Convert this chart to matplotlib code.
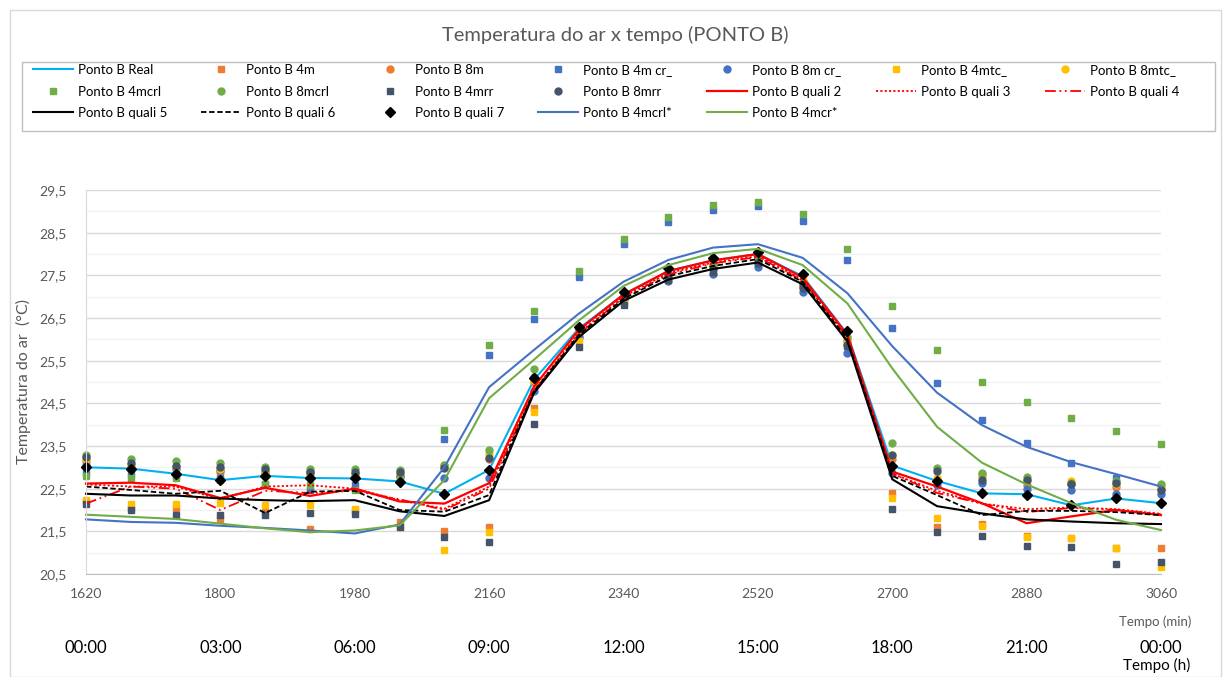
import matplotlib
matplotlib.use("Agg")
import matplotlib.pyplot as plt
from matplotlib.patches import Rectangle
from matplotlib.transforms import blended_transform_factory

plt.rcParams['font.family'] = ['Lato', 'DejaVu Sans']

# ---------------------------------------------------------------- data
tempo_min = [1620, 1680, 1740, 1800, 1860, 1920, 1980, 2040, 2100, 2160, 2220, 2280,
             2340, 2400, 2460, 2520, 2580, 2640, 2700, 2760, 2820, 2880, 2940, 3000, 3060]

tick_min = [1620, 1800, 1980, 2160, 2340, 2520, 2700, 2880, 3060]
tick_hora = ["00:00", "03:00", "06:00", "09:00", "12:00", "15:00", "18:00", "21:00", "00:00"]
tick_temp = [20.5, 21.5, 22.5, 23.5, 24.5, 25.5, 26.5, 27.5, 28.5, 29.5]
tick_temp_labels = ["20,5", "21,5", "22,5", "23,5", "24,5", "25,5", "26,5", "27,5", "28,5", "29,5"]
grid_temp_minor = [21.0, 22.0, 23.0, 24.0, 25.0, 26.0, 27.0, 28.0, 29.0]

real = [23.00, 22.97, 22.85, 22.70, 22.80, 22.75, 22.74, 22.67, 22.38, 22.94, 25.05, 26.25,
        27.05, 27.60, 27.85, 28.00, 27.48, 26.12, 23.04, 22.68, 22.39, 22.37, 22.11, 22.27, 22.16]
p4m = [22.20, 22.05, 22.05, 21.80, 21.95, 21.56, 22.00, 21.72, 21.51, 21.59, 24.40, 26.05,
       26.90, 27.45, 27.80, 27.95, 27.35, 26.00, 22.41, 21.61, 21.67, 21.38, 21.35, 21.10, 21.12]
p8m = [23.15, 23.00, 23.00, 22.90, 22.85, 22.85, 22.80, 22.81, 23.00, 23.20, 25.00, 26.15,
       27.00, 27.45, 27.70, 27.85, 27.25, 25.95, 23.20, 22.70, 22.80, 22.59, 22.60, 22.55, 22.50]
p4m_cr = [22.90, 22.85, 22.80, 22.75, 22.60, 22.48, 22.58, 22.75, 23.66, 25.63, 26.47, 27.45,
          28.23, 28.76, 29.03, 29.12, 28.77, 27.85, 26.27, 24.97, 24.11, 23.58, 23.09, 22.76, 22.55]
p8m_cr = [23.05, 22.95, 22.95, 22.93, 22.89, 22.90, 22.85, 22.80, 22.76, 22.74, 24.80, 26.05,
          26.95, 27.37, 27.52, 27.69, 27.12, 25.69, 22.87, 22.59, 22.63, 22.49, 22.48, 22.38, 22.37]
p4mtc = [22.23, 22.13, 22.13, 22.16, 22.11, 22.11, 22.03, 21.60, 21.06, 21.49, 24.30, 25.95,
         26.84, 27.45, 27.82, 27.97, 27.40, 26.02, 22.27, 21.82, 21.63, 21.36, 21.34, 21.10, 20.67]
p8mtc = [23.20, 23.05, 23.00, 22.95, 22.90, 22.85, 22.85, 22.85, 23.05, 23.31, 25.05, 26.20,
         26.98, 27.45, 27.70, 27.85, 27.30, 26.00, 23.30, 22.75, 22.84, 22.70, 22.68, 22.60, 22.55]
p4mcrl = [22.80, 22.75, 22.75, 22.70, 22.60, 22.58, 22.48, 22.75, 23.87, 25.87, 26.66, 27.60,
          28.34, 28.86, 29.15, 29.23, 28.93, 28.11, 26.78, 25.75, 25.00, 24.52, 24.15, 23.86, 23.54]
p8mcrl = [23.30, 23.20, 23.16, 23.10, 23.00, 22.97, 22.95, 22.94, 23.05, 23.41, 25.30, 26.30,
          27.05, 27.55, 27.75, 27.90, 27.30, 26.06, 23.56, 22.98, 22.87, 22.77, 22.63, 22.68, 22.60]
p4mrr = [22.13, 22.01, 21.88, 21.88, 21.88, 21.93, 21.90, 21.60, 21.36, 21.26, 24.01, 25.83,
         26.80, 27.40, 27.57, 27.80, 27.30, 25.85, 22.02, 21.48, 21.40, 21.16, 21.13, 20.73, 20.78]
p8mrr = [23.25, 23.10, 23.03, 23.00, 22.95, 22.90, 22.88, 22.90, 22.98, 23.23, 25.12, 26.25,
         27.00, 27.50, 27.65, 27.80, 27.20, 25.87, 23.28, 22.91, 22.70, 22.70, 22.60, 22.64, 22.48]
quali2 = [22.62, 22.64, 22.58, 22.28, 22.52, 22.33, 22.50, 22.20, 22.15, 22.63, 24.89, 26.22,
          27.05, 27.60, 27.85, 28.00, 27.45, 26.10, 22.90, 22.55, 22.16, 21.69, 21.85, 22.00, 21.88]
quali3 = [22.60, 22.55, 22.55, 22.25, 22.55, 22.58, 22.50, 22.23, 22.03, 22.55, 24.80, 26.15,
          27.00, 27.55, 27.80, 27.95, 27.40, 26.05, 22.85, 22.45, 22.15, 22.02, 22.06, 22.02, 21.91]
quali4 = [22.15, 22.55, 22.50, 22.00, 22.45, 22.40, 22.45, 22.25, 22.00, 22.50, 24.78, 26.12,
          26.98, 27.52, 27.78, 27.93, 27.38, 26.03, 22.85, 22.40, 22.15, 21.95, 22.05, 22.00, 21.90]
quali5 = [22.38, 22.34, 22.34, 22.27, 22.23, 22.21, 22.23, 21.97, 21.86, 22.23, 24.74, 26.05,
          26.90, 27.40, 27.65, 27.80, 27.29, 25.95, 22.72, 22.09, 21.92, 21.78, 21.73, 21.69, 21.67]
quali6 = [22.55, 22.47, 22.38, 22.45, 21.93, 22.43, 22.45, 22.00, 21.96, 22.35, 24.78, 26.10,
          26.95, 27.48, 27.72, 27.88, 27.35, 26.00, 22.80, 22.35, 21.88, 21.98, 21.98, 21.95, 21.88]
quali7 = [23.00, 22.97, 22.85, 22.70, 22.80, 22.75, 22.75, 22.65, 22.38, 22.94, 25.09, 26.30,
          27.12, 27.68, 27.91, 28.05, 27.52, 26.20, 23.03, 22.68, 22.40, 22.36, 22.11, 22.27, 22.16]
p4mcrl_ast = [21.78, 21.72, 21.70, 21.63, 21.58, 21.52, 21.45, 21.66, 23.00, 24.88, 25.75, 26.60,
              27.35, 27.86, 28.15, 28.23, 27.91, 27.08, 25.84, 24.75, 23.99, 23.48, 23.12, 22.84, 22.55]
p4mcr_ast = [21.89, 21.84, 21.79, 21.68, 21.57, 21.48, 21.52, 21.64, 22.70, 24.62, 25.52, 26.44,
             27.25, 27.74, 28.02, 28.12, 27.74, 26.84, 25.32, 23.95, 23.11, 22.60, 22.16, 21.77, 21.53]

# ---------------------------------------------------------------- styles
BLUE, ORANGE, GOLD, GREEN, SLATE = "#4472C4", "#ED7D31", "#FFC000", "#70AD47", "#44546A"
CYAN, RED = "#00B0F0", "#FF0000"

series = [
    ("Ponto B Real",     real,       dict(color=CYAN, lw=1.5)),
    ("Ponto B 4m",       p4m,        dict(color=ORANGE, ls="none", marker="s", ms=5)),
    ("Ponto B 8m",       p8m,        dict(color=ORANGE, ls="none", marker="o", ms=5)),
    ("Ponto B 4m cr_",   p4m_cr,     dict(color=BLUE, ls="none", marker="s", ms=5)),
    ("Ponto B 8m cr_",   p8m_cr,     dict(color=BLUE, ls="none", marker="o", ms=5)),
    ("Ponto B 4mtc_",    p4mtc,      dict(color=GOLD, ls="none", marker="s", ms=5)),
    ("Ponto B 8mtc_",    p8mtc,      dict(color=GOLD, ls="none", marker="o", ms=5)),
    ("Ponto B 4mcrl",    p4mcrl,     dict(color=GREEN, ls="none", marker="s", ms=5)),
    ("Ponto B 8mcrl",    p8mcrl,     dict(color=GREEN, ls="none", marker="o", ms=5)),
    ("Ponto B 4mrr",     p4mrr,      dict(color=SLATE, ls="none", marker="s", ms=5)),
    ("Ponto B 8mrr",     p8mrr,      dict(color=SLATE, ls="none", marker="o", ms=5)),
    ("Ponto B quali 2",  quali2,     dict(color=RED, lw=1.6)),
    ("Ponto B quali 3",  quali3,     dict(color=RED, lw=1.3, dashes=(1.2, 1.2))),
    ("Ponto B quali 4",  quali4,     dict(color=RED, lw=1.3, dashes=(6, 2, 1, 2, 1, 2))),
    ("Ponto B quali 5",  quali5,     dict(color="black", lw=1.5)),
    ("Ponto B quali 6",  quali6,     dict(color="black", lw=1.3, dashes=(3, 1.5))),
    ("Ponto B quali 7",  quali7,     dict(color="black", ls="none", marker="D", ms=5.5)),
    ("Ponto B 4mcrl*",   p4mcrl_ast, dict(color=BLUE, lw=1.5)),
    ("Ponto B 4mcr*",    p4mcr_ast,  dict(color=GREEN, lw=1.5)),
]

W, H = 1224, 677
fig = plt.figure(figsize=(W / 100, H / 100), dpi=100)
fig.patch.set_facecolor("white")

# outer chart frame
fig.add_artist(Rectangle((10 / W, 0), (W - 13) / W, (H - 10) / H, transform=fig.transFigure,
                         fill=False, edgecolor="#D9D9D9", lw=1.0))

ax = fig.add_axes([86 / W, 1 - 574 / H, (1161 - 86) / W, (574 - 190) / H])

handles = []
for name, vals, st in series:
    (h,) = ax.plot(tempo_min, vals, label=name, clip_on=False, **st)
    handles.append(h)

ax.set_xlim(1620, 3060)
ax.set_ylim(20.5, 29.5)
ax.set_xticks(tick_min)
ax.set_yticks(tick_temp, tick_temp_labels)
ax.set_yticks(grid_temp_minor, minor=True)
ax.grid(axis="y", which="major", color="#D9D9D9", lw=1.0)
ax.grid(axis="y", which="minor", color="#F2F2F2", lw=1.0)
ax.set_axisbelow(True)
for s in ("top", "right"):
    ax.spines[s].set_visible(False)
ax.spines["left"].set_color("#D9D9D9")
ax.spines["bottom"].set_color("#BFBFBF")
ax.tick_params(which="both", length=0, colors="#595959", labelsize=10)
ax.tick_params(axis="x", pad=10)
ax.tick_params(axis="y", pad=14)

ax.set_ylabel("Temperatura do ar  (°C)", fontsize=11.5, color="#595959", labelpad=6)

# secondary time labels (hours)
tr = blended_transform_factory(ax.transData, fig.transFigure)
for t, lab in zip(tick_min, tick_hora):
    ax.text(t, 1 - 648 / H, lab, transform=tr, ha="center", va="center", fontsize=12, color="black")
fig.text(1155 / W, 1 - 622 / H, "Tempo (min)", ha="center", va="center", fontsize=9.5, color="#595959")
fig.text(1157 / W, 1 - 665 / H, "Tempo (h)", ha="center", va="center", fontsize=11, color="black")

# title
fig.text(615 / W, 1 - 35 / H, "Temperatura do ar x tempo (PONTO B)", ha="center", va="center",
         fontsize=14.5, color="#595959")

# legend: 7 equally spaced columns, filled row by row
fig.add_artist(Rectangle((22 / W, 1 - 131 / H), (1215 - 22) / W, (131 - 62) / H,
                         transform=fig.transFigure, fill=False, edgecolor="#BFBFBF", lw=1.0))
ncol = 7
col_x = [33, 201, 370, 538, 707, 876, 1045]
for j in range(ncol):
    idx = list(range(j, len(handles), ncol))
    fig.legend([handles[i] for i in idx], [series[i][0] for i in idx],
               loc="upper left", bbox_to_anchor=(col_x[j] / W, 1 - 64 / H),
               frameon=False, fontsize=9.5, handlelength=3.0, handletextpad=0.4,
               labelspacing=0.72, borderpad=0, borderaxespad=0)

fig.savefig("out.png", dpi=100, facecolor="white")
